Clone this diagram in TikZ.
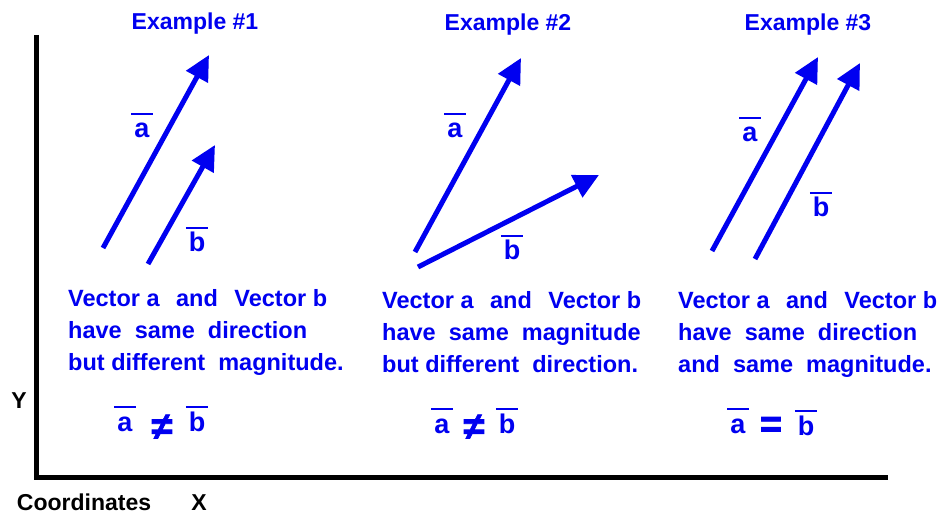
\documentclass[tikz,border=0pt]{standalone}
\usepackage{fontspec}
\setmainfont{Liberation Sans}
\newfontfamily\signfont[BoldFeatures={FakeBold=2}]{Liberation Sans}
\usetikzlibrary{arrows.meta}
\definecolor{vecblue}{RGB}{0,0,240}
\newcommand{\barvec}[1]{\vbox{\hrule height 2pt\kern 3pt\hbox{\kern 3pt\vphantom{b}#1\kern 3pt}}}
\newcommand{\gap}{\hspace{16.5pt}}
\tikzset{
    vec/.style={draw=vecblue, line width=5pt, -{Triangle[length=25pt,width=24pt]}},
    axisline/.style={draw=black, line width=5pt},
    extitle/.style={text=vecblue, font=\bfseries\fontsize{23}{28}\selectfont, anchor=base, inner sep=0pt},
    veclabel/.style={text=vecblue, font=\bfseries\fontsize{27}{30}\selectfont, anchor=base, inner sep=0pt},
    relsign/.style={text=vecblue, font=\signfont\bfseries\fontsize{38}{40}\selectfont, inner sep=0pt},
    remark/.style={text=vecblue, font=\bfseries\fontsize{23.5}{32}\selectfont, align=left, anchor=north west, inner sep=0pt},
    axislabel/.style={text=black, font=\bfseries\fontsize{23}{28}\selectfont, anchor=base, inner sep=0pt}
}

\begin{document}
\begin{tikzpicture}[x=1pt, y=-1pt]
    \useasboundingbox (0,0) rectangle (938,513);

    % axes
    \coordinate (ytop) at (36,35);
    \coordinate (orig) at (36,477);
    \coordinate (xend) at (888,477);
    \draw[axisline] (ytop) -- (orig) -- (xend);
    \node[axislabel] (ylab) at (19,408) {Y};
    \node[axislabel] (coord) at (84,510) {Coordinates};
    \node[axislabel] (xlab) at (199,510) {X};

    % example 1: same direction, different magnitude
    \node[extitle] (t1) at (195,30) {Example \#1};
    \coordinate (a1s) at (103,248);
    \coordinate (a1e) at (209,55);
    \coordinate (b1s) at (148,264);
    \coordinate (b1e) at (215,145);
    \node[veclabel] (la1) at (142,138) {\barvec{a}};
    \node[veclabel] (lb1) at (197,252) {\barvec{b}};
    \node[remark] (r1) at (68,289) {Vector a\gap and\gap Vector b\\have ~same ~direction\\but different ~magnitude.};
    \node[veclabel] (ea1) at (125,431) {\barvec{a}};
    \node[relsign] (ne1) at (162,427) {≠};
    \node[veclabel] (eb1) at (197,431) {\barvec{b}};

    % example 2: same magnitude, different direction
    \node[extitle] (t2) at (508,31) {Example \#2};
    \coordinate (a2s) at (415,252);
    \coordinate (a2e) at (521,58);
    \coordinate (b2s) at (418,267);
    \coordinate (b2e) at (599,175);
    \node[veclabel] (la2) at (455,138) {\barvec{a}};
    \node[veclabel] (lb2) at (512,260) {\barvec{b}};
    \node[remark] (r2) at (382,291) {Vector a\gap and\gap Vector b\\have ~same ~magnitude\\but different ~direction.};
    \node[veclabel] (ea2) at (442,433) {\barvec{a}};
    \node[relsign] (ne2) at (474,427) {≠};
    \node[veclabel] (eb2) at (507,433) {\barvec{b}};

    % example 3: equal vectors
    \node[extitle] (t3) at (808,31) {Example \#3};
    \coordinate (a3s) at (712,251);
    \coordinate (a3e) at (818,57);
    \coordinate (b3s) at (755,259);
    \coordinate (b3e) at (860,63);
    \node[veclabel] (la3) at (750,142) {\barvec{a}};
    \node[veclabel] (lb3) at (821,217) {\barvec{b}};
    \node[remark] (r3) at (678,291) {Vector a\gap and\gap Vector b\\have ~same ~direction\\and ~same ~magnitude.};
    \node[veclabel] (ea3) at (738,433) {\barvec{a}};
    \node[relsign] (eq3) at (771,427) {=};
    \node[veclabel] (eb3) at (806,435) {\barvec{b}};

    % vectors
    \foreach \v in {1,2,3} {
        \draw[vec] (a\v s) -- (a\v e);
        \draw[vec] (b\v s) -- (b\v e);
    }
\end{tikzpicture}
\end{document}
